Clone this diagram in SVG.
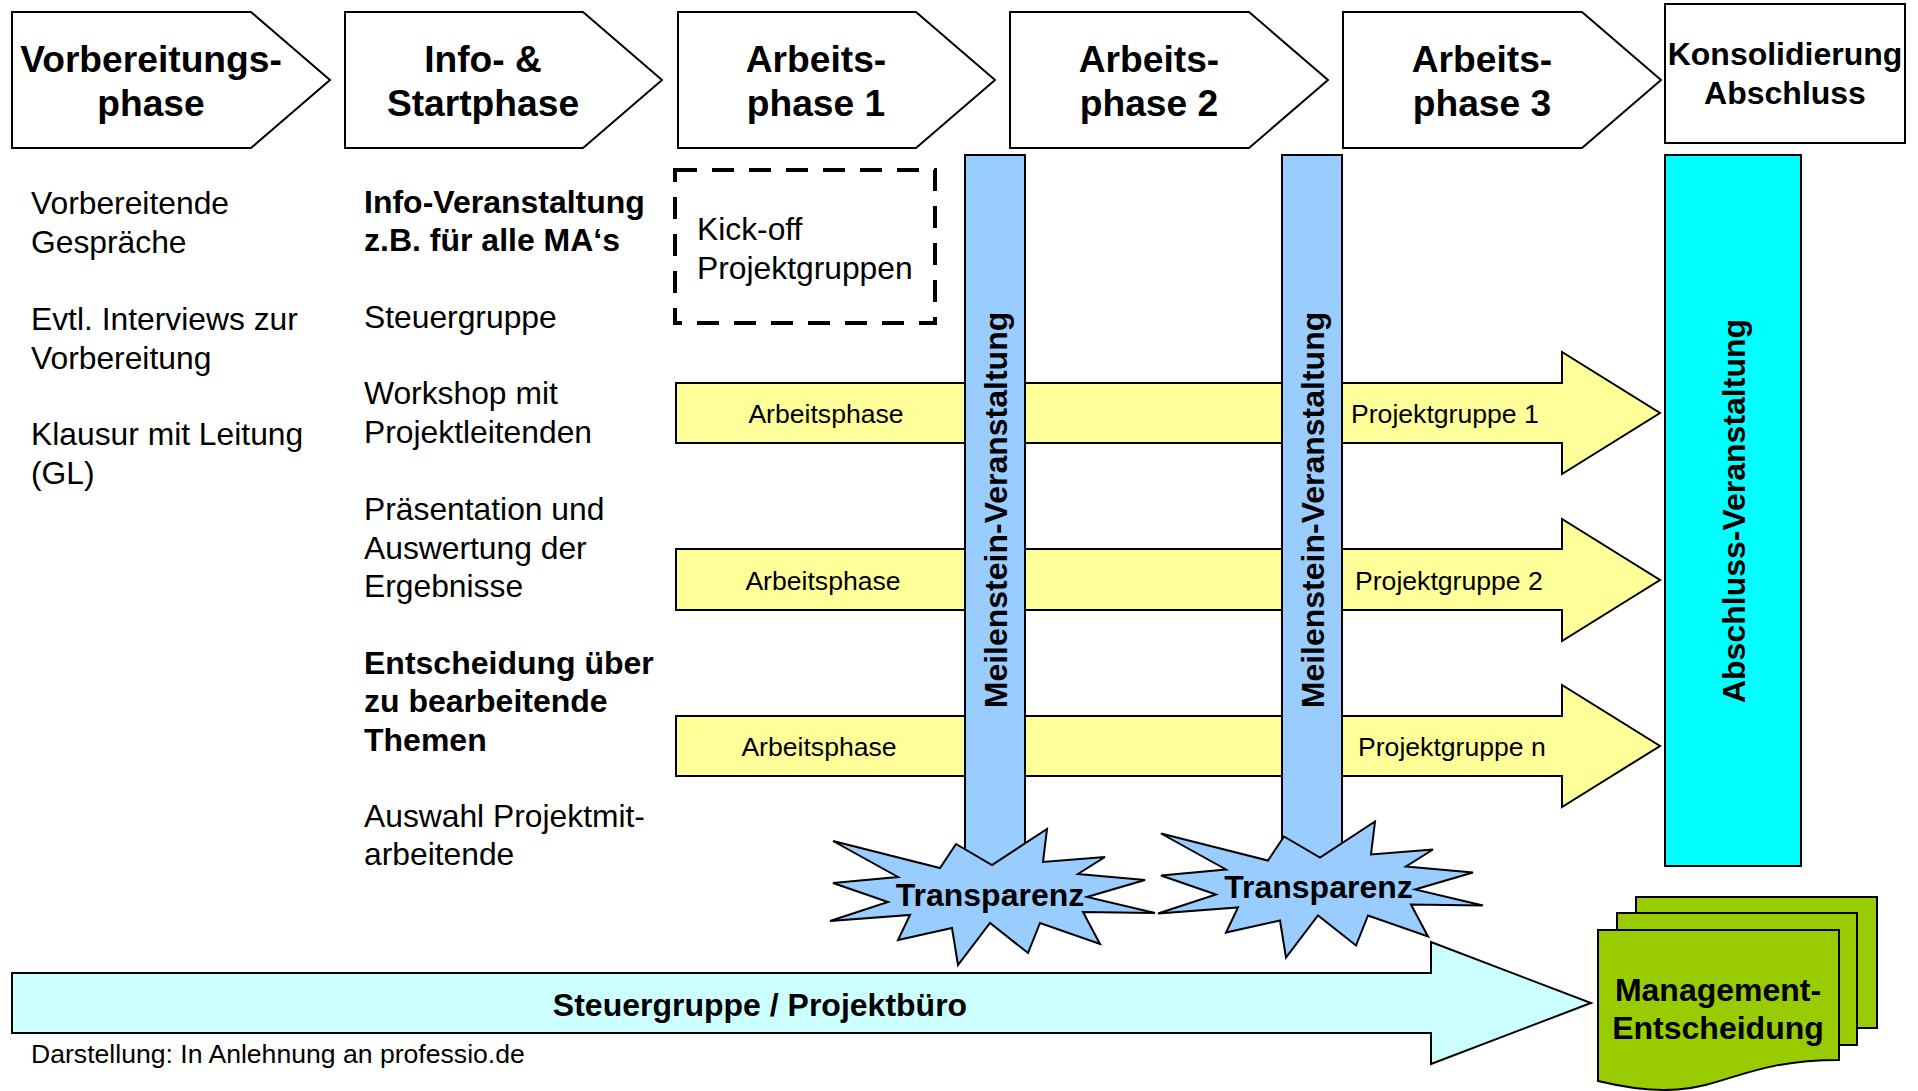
<svg xmlns="http://www.w3.org/2000/svg" width="1918" height="1091" viewBox="0 0 1918 1091">
<style>
text{font-family:"Liberation Sans",Arial,sans-serif;fill:#000}
.ph{font-size:37.2px;font-weight:bold;text-anchor:middle}
.b32{font-size:32px;font-weight:bold}
.r31{font-size:31.8px}
.r26{font-size:26.6px}
.mid{text-anchor:middle}
.ol{stroke:#000;stroke-width:2;stroke-linejoin:miter}
</style>
<defs>
<polygon id="star" points="833,841 940,868 956,844 992,865 1047,829 1043,862 1105,857 1078,874 1145,880 1087,897 1155,913 1083,912 1100,944 1040,923 1028,953 990,923 958,965 952,928 898,940 910,915 830,921 888,902 833,883 898,877"/>
</defs>
<rect width="1918" height="1091" fill="#fff"/>

<g id="phase1"><polygon class="ol" fill="#fff" points="12,12 251,12 330,80 251,148 12,148"/>
<text class="ph" x="151" y="72">Vorbereitungs-</text><text class="ph" x="151" y="116">phase</text></g>
<g id="phase2"><polygon class="ol" fill="#fff" points="345,12 583,12 662,80 583,148 345,148"/>
<text class="ph" x="483" y="72">Info- &amp;</text><text class="ph" x="483" y="116">Startphase</text></g>
<g id="phase3"><polygon class="ol" fill="#fff" points="678,12 916,12 995,80 916,148 678,148"/>
<text class="ph" x="816" y="72">Arbeits-</text><text class="ph" x="816" y="116">phase 1</text></g>
<g id="phase4"><polygon class="ol" fill="#fff" points="1010,12 1249,12 1328,80 1249,148 1010,148"/>
<text class="ph" x="1149" y="72">Arbeits-</text><text class="ph" x="1149" y="116">phase 2</text></g>
<g id="phase5"><polygon class="ol" fill="#fff" points="1343,12 1582,12 1661,80 1582,148 1343,148"/>
<text class="ph" x="1482" y="72">Arbeits-</text><text class="ph" x="1482" y="116">phase 3</text></g>
<g id="phase6"><rect class="ol" fill="#fff" x="1665" y="4" width="240" height="139"/>
<text class="b32 mid" x="1785" y="65">Konsolidierung</text><text class="b32 mid" x="1785" y="104">Abschluss</text></g>

<g id="col1">
<text class="r31" x="31" y="214">Vorbereitende</text>
<text class="r31" x="31" y="253">Gespräche</text>
<text class="r31" x="31" y="330">Evtl. Interviews zur</text>
<text class="r31" x="31" y="368.5">Vorbereitung</text>
<text class="r31" x="31" y="445">Klausur mit Leitung</text>
<text class="r31" x="31" y="483.5">(GL)</text>
</g>
<g id="col2">
<text class="b32" x="364" y="212.5">Info-Veranstaltung</text>
<text class="b32" x="364" y="251">z.B. für alle MA‘s</text>
<text class="r31" x="364" y="328">Steuergruppe</text>
<text class="r31" x="364" y="404">Workshop mit</text>
<text class="r31" x="364" y="442.5">Projektleitenden</text>
<text class="r31" x="364" y="520">Präsentation und</text>
<text class="r31" x="364" y="558.5">Auswertung der</text>
<text class="r31" x="364" y="597">Ergebnisse</text>
<text class="b32" x="364" y="674">Entscheidung über</text>
<text class="b32" x="364" y="712">zu bearbeitende</text>
<text class="b32" x="364" y="750.5">Themen</text>
<text class="r31" x="364" y="827">Auswahl Projektmit-</text>
<text class="r31" x="364" y="865">arbeitende</text>
</g>

<g id="kickoff"><rect x="675" y="170" width="260" height="153" fill="none" stroke="#000" stroke-width="4" stroke-dasharray="22 15"/>
<text class="r31" x="697" y="240">Kick-off</text><text class="r31" x="697" y="279">Projektgruppen</text></g>

<g id="connectors">
<g id="arrow1"><polygon class="ol" fill="#FFFF99" points="676,383 1562,383 1562,352 1660,413 1562,474 1562,443 676,443"/>
<text class="r26 mid" x="826" y="422.5">Arbeitsphase</text><text class="r26" x="1351" y="423">Projektgruppe 1</text></g>
<g id="arrow2"><polygon class="ol" fill="#FFFF99" points="676,549 1562,549 1562,519 1660,580 1562,641 1562,610 676,610"/>
<text class="r26 mid" x="823" y="589.5">Arbeitsphase</text><text class="r26" x="1355" y="589.5">Projektgruppe 2</text></g>
<g id="arrow3"><polygon class="ol" fill="#FFFF99" points="676,716 1562,716 1562,685 1660,746 1562,807 1562,776 676,776"/>
<text class="r26 mid" x="819" y="755.5">Arbeitsphase</text><text class="r26" x="1358" y="755.5">Projektgruppe n</text></g>
<g id="steuer"><polygon class="ol" fill="#CCFFFF" points="12,973 1431,973 1431,942 1591,1003 1431,1064 1431,1033 12,1033"/>
<text class="b32 mid" x="760" y="1015.5">Steuergruppe / Projektbüro</text></g>
</g>

<g id="milestone1"><rect class="ol" fill="#99CCFF" x="965" y="155" width="60" height="725"/>
<text class="b32 mid" transform="translate(1007,510) rotate(-90)">Meilenstein-Veranstaltung</text></g>
<g id="milestone2"><rect class="ol" fill="#99CCFF" x="1282" y="155" width="60" height="720"/>
<text class="b32 mid" transform="translate(1324,510) rotate(-90)">Meilenstein-Veranstaltung</text></g>
<g id="abschluss"><rect class="ol" fill="#00FFFF" x="1665" y="155" width="136" height="711"/>
<text class="b32 mid" transform="translate(1745,511) rotate(-90)">Abschluss-Veranstaltung</text></g>

<g id="star1"><use href="#star" class="ol" fill="#99CCFF"/>
<text class="b32 mid" x="990" y="905.5">Transparenz</text></g>
<g id="star2"><use href="#star" class="ol" fill="#99CCFF" transform="translate(328,-7.5)"/>
<text class="b32 mid" x="1318.5" y="897.5">Transparenz</text></g>

<g id="management">
<rect class="ol" fill="#99CC00" x="1636" y="897" width="241" height="131"/>
<rect class="ol" fill="#99CC00" x="1617" y="913" width="240" height="132"/>
<path class="ol" fill="#99CC00" d="M1598,930 L1839,930 L1839,1060 C1718.5,1060 1718.5,1110 1598,1081 Z"/>
<text class="b32 mid" x="1718" y="1001">Management-</text>
<text class="b32 mid" x="1718" y="1039">Entscheidung</text>
</g>

<g id="credit"><text class="r26" x="31" y="1063">Darstellung: In Anlehnung an professio.de</text></g>
</svg>
